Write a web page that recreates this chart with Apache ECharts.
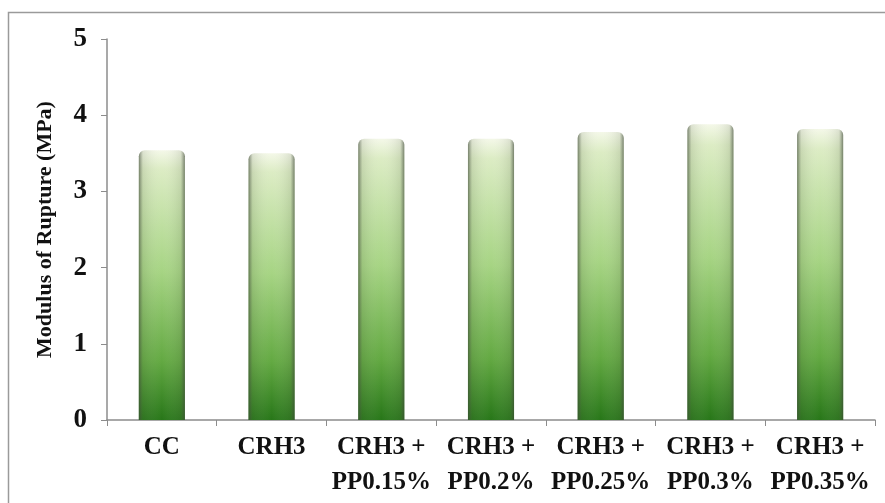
<!DOCTYPE html>
<html>
<head>
<meta charset="utf-8">
<script src="https://cdn.jsdelivr.net/npm/echarts@6/dist/echarts.min.js"></script>
<style>
  html, body { margin: 0; padding: 0; background: #fff; }
  #chart { width: 885px; height: 503px; }
</style>
</head>
<body>
<div id="chart"></div>
<script>
// Mix designs along the x axis
const categories = ['CC', 'CRH3', 'CRH3 +\nPP0.15%', 'CRH3 +\nPP0.2%', 'CRH3 +\nPP0.25%', 'CRH3 +\nPP0.3%', 'CRH3 +\nPP0.35%'];
// Modulus of rupture (MPa) per mix
const ruptureValues = [3.54, 3.50, 3.69, 3.69, 3.78, 3.88, 3.82];
// Value axis ticks
const yTicks = [0, 1, 2, 3, 4, 5];

const font = '"Liberation Serif", "Times New Roman", serif';
const chart = echarts.init(document.getElementById('chart'), null, { renderer: 'canvas' });

const verticalFill = new echarts.graphic.LinearGradient(0, 0, 0, 1, [
  { offset: 0, color: '#f4f8e8' },
  { offset: 0.07, color: '#dcecc4' },
  { offset: 0.45, color: '#a6d483' },
  { offset: 0.78, color: '#63a942' },
  { offset: 1, color: '#277618' }
]);
// Side shading gives each column a rounded, cylindrical look
const sideShade = new echarts.graphic.LinearGradient(0, 0, 1, 0, [
  { offset: 0, color: 'rgba(60,70,55,0.65)' },
  { offset: 0.09, color: 'rgba(90,100,80,0.15)' },
  { offset: 0.5, color: 'rgba(255,255,255,0)' },
  { offset: 0.91, color: 'rgba(90,100,80,0.15)' },
  { offset: 1, color: 'rgba(60,70,55,0.65)' }
]);

chart.setOption({
  animation: false,
  backgroundColor: '#fff',
  graphic: [{
    type: 'rect',
    shape: { x: 8.5, y: 12.5, width: 900, height: 520 },
    style: { fill: 'none', stroke: '#9a9a9a', lineWidth: 1.5 },
    z: -1
  }],
  grid: { left: 107, right: 10, top: 39, bottom: 83 },
  xAxis: {
    type: 'category',
    data: categories,
    axisLine: { lineStyle: { color: '#8c8c8c', width: 1.5 } },
    axisTick: { show: true, alignWithLabel: false, length: 6, lineStyle: { color: '#8c8c8c' } },
    axisLabel: {
      interval: 0, color: '#111', fontFamily: font, fontWeight: 'bold', fontSize: 25,
      lineHeight: 35, margin: 10
    }
  },
  yAxis: {
    type: 'value',
    min: yTicks[0],
    max: yTicks[yTicks.length - 1],
    interval: 1,
    name: 'Modulus of Rupture (MPa)',
    nameLocation: 'middle',
    nameGap: 51,
    nameTextStyle: { color: '#111', fontFamily: font, fontWeight: 'bold', fontSize: 22 },
    axisLine: { show: true, lineStyle: { color: '#8c8c8c', width: 1.5 } },
    axisTick: { show: true, length: 6, lineStyle: { color: '#8c8c8c' } },
    splitLine: { show: false },
    axisLabel: { color: '#111', fontFamily: font, fontWeight: 'bold', fontSize: 27, margin: 20 }
  },
  series: [
    {
      type: 'bar',
      data: ruptureValues,
      barWidth: '42%',
      itemStyle: { color: verticalFill, borderRadius: [6, 6, 0, 0] }
    },
    {
      type: 'bar',
      data: ruptureValues,
      barWidth: '42%',
      barGap: '-100%',
      silent: true,
      itemStyle: { color: sideShade, borderRadius: [6, 6, 0, 0] }
    }
  ]
});
</script>
</body>
</html>
